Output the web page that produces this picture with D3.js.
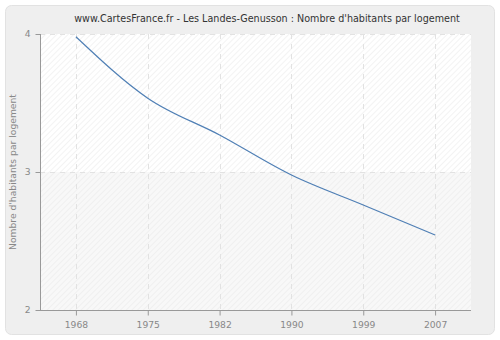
<!DOCTYPE html>
<html><head><meta charset="utf-8">
<script src="https://cdn.jsdelivr.net/npm/d3@7"></script>
<style>body{margin:0;background:#fff}svg{display:block}</style>
</head><body>
<svg id="c" width="500" height="340"></svg>
<script>
const years = ["1968","1975","1982","1990","1999","2007"];
const values = [3.98, 3.535, 3.268, 2.978, 2.761, 2.543];
const yTicks = [2, 3, 4];
const title = "www.CartesFrance.fr - Les Landes-Genusson : Nombre d'habitants par logement";
const yLabel = "Nombre d'habitants par logement";

const svg = d3.select("#c");
const m = {l: 40, r: 471, t: 34, b: 310};
const defs = svg.append("defs");
const pat = defs.append("pattern").attr("id","hatch").attr("patternUnits","userSpaceOnUse")
  .attr("width",4).attr("height",4).attr("patternTransform","rotate(45)");
pat.append("line").attr("x1",0).attr("y1",0).attr("x2",0).attr("y2",4).attr("stroke","#e8e8e8").attr("stroke-width",1);

svg.append("rect").attr("x",5.5).attr("y",5.5).attr("width",489).attr("height",329).attr("rx",6)
  .attr("fill","#efefef").attr("stroke","#e2e2e2");

const x = d3.scalePoint().domain(years).range([m.l, m.r]).padding(0.5);
const y = d3.scaleLinear().domain([2,4]).range([m.b, m.t]);

svg.append("rect").attr("x",m.l).attr("y",y(4)).attr("width",m.r-m.l).attr("height",y(3)-y(4)).attr("fill","#ffffff");
svg.append("rect").attr("x",m.l).attr("y",y(3)).attr("width",m.r-m.l).attr("height",y(2)-y(3)).attr("fill","#f8f8f8");
svg.append("rect").attr("x",m.l).attr("y",m.t).attr("width",m.r-m.l).attr("height",m.b-m.t).attr("fill","url(#hatch)");

const g = svg.append("g");
g.selectAll("line.vg").data(years).join("line").attr("class","vg")
  .attr("x1",d=>Math.round(x(d))+0.5).attr("x2",d=>Math.round(x(d))+0.5).attr("y1",m.t).attr("y2",m.b)
  .attr("stroke","#e2e2e2").attr("stroke-dasharray","5,5");
g.selectAll("line.hg").data(yTicks).join("line").attr("class","hg")
  .attr("x1",m.l).attr("x2",m.r).attr("y1",d=>Math.round(y(d))+0.5).attr("y2",d=>Math.round(y(d))+0.5)
  .attr("stroke","#e2e2e2").attr("stroke-dasharray","5,5");

const line = d3.line().x((d,i)=>x(years[i])).y(d=>y(d)).curve(d3.curveMonotoneX);
svg.append("path").datum(values).attr("d",line).attr("fill","none").attr("stroke","#4f7fb5").attr("stroke-width",1.2);

const xa = svg.append("g").attr("transform",`translate(0,${m.b+0.5})`)
  .call(d3.axisBottom(x).tickSize(5).tickPadding(6).tickSizeOuter(0));
const ya = svg.append("g").attr("transform",`translate(${m.l+0.5},0)`)
  .call(d3.axisLeft(y).tickValues(yTicks).tickFormat(d3.format("d")).tickSize(5).tickPadding(5).tickSizeOuter(0));
[xa,ya].forEach(a=>{
  a.select(".domain").attr("stroke","#999");
  a.selectAll(".tick line").attr("stroke","#999");
  a.selectAll("text").attr("fill","#888").style("font-family","DejaVu Sans").style("font-size","9.2px");
});
ya.select(".domain").attr("d",`M0,${m.t}V${m.b}`);
xa.select(".domain").attr("d",`M${m.l},0H${m.r}`);

svg.append("text").attr("x",267).attr("y",22).attr("text-anchor","middle")
  .style("font-family","DejaVu Sans").style("font-size","9.6px").attr("fill","#333").text(title);
svg.append("text").attr("transform",`translate(16,${(m.t+m.b)/2}) rotate(-90)`).attr("text-anchor","middle")
  .style("font-family","DejaVu Sans").style("font-size","9.2px").attr("fill","#888").text(yLabel);
</script>
</body></html>
